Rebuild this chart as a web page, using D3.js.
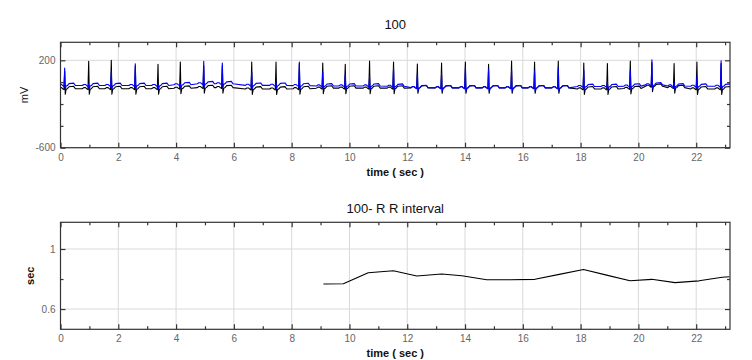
<!DOCTYPE html>
<html><head><meta charset="utf-8">
<script src="https://cdn.jsdelivr.net/npm/d3@7"></script>
<style>body{margin:0;background:#fff} text{font-family:"Liberation Sans",Arial,sans-serif}</style>
</head><body><svg id="c" width="752" height="360"></svg>
<script>
// ---------- data ----------
const beatTimes = [0.145, 0.976, 1.758, 2.589, 3.375, 4.147, 4.957, 5.601, 6.618, 7.459, 8.266, 9.076, 9.855, 10.696, 11.526, 12.350, 13.188, 14.012, 14.815, 15.611, 16.407, 17.227, 18.110, 18.927, 19.720, 20.467, 21.236, 22.025, 22.862];
const blackPeak = [100, 191, 200, 150, 163, 184, 150, 150, 184, 184, 170, 175, 163, 193, 184, 167, 175, 184, 163, 193, 184, 193, 175, 170, 193, 180, 170, 184, 170];
const bluePeak  = [129, -20, 93, 169, -20, -20, 191, 175, 93, 0, 184, 93, 70, 50, 130, 80, 80, 135, 120, 108, 103, 135, 108, 0, 108, 205, 0, 50, 195];
const blackBase = [-60, -60, -60, -60, -60, -56, -50, -50, -63, -63, -60, -55, -55, -55, -55, -52, -52, -52, -52, -52, -52, -52, -62, -62, -58, -38, -50, -62, -62];
const blueBase  = [-31, -31, -31, -31, -31, -24, -15, -15, -29, -29, -32, -35, -35, -35, -38, -50, -52, -52, -52, -52, -52, -52, -40, -40, -36, -25, -35, -38, -38];
const blackS = -50, blueS = -30;
// beat morphology: [time offset (s), mV offset from baseline, kind]
const beatShape = [[-0.22,0],[-0.17,10],[-0.11,10],[-0.07,0],[-0.025,-8],[0,0,'R'],[0.02,0,'S'],[0.05,-5],[0.09,0],[0.15,18],[0.31,22],[0.37,0]];

const rrTimes  = [9.10, 9.79, 10.65, 11.52, 12.33, 13.19, 13.89, 14.75, 15.56, 16.42, 17.26, 18.10, 18.90, 19.71, 20.46, 21.27, 22.10, 22.90, 23.15];
const rrValues = [0.767, 0.769, 0.842, 0.855, 0.820, 0.833, 0.822, 0.795, 0.795, 0.798, 0.831, 0.864, 0.826, 0.789, 0.798, 0.776, 0.788, 0.812, 0.815];

const xDomain = [0, 23.17];
const xMajor = [0, 2, 4, 6, 8, 10, 12, 14, 16, 18, 20, 22];
const xMinor = [1, 3, 5, 7, 9, 11, 13, 15, 17, 19, 21, 23];
const ecgDomain = [-600, 365];
const ecgMajor = [200, -600];
const ecgMinor = [0, -200, -400];
const rrDomain = [0.465, 1.178];
const rrMajor = [1, 0.6];
const rrMinor = [0.8];

// ---------- drawing ----------
const svg = d3.select('#c');
const L = 60.5, R = 730;
const x = d3.scaleLinear().domain(xDomain).range([L, R]);

function panel(id, top, bottom, yDomain, yMajor, yMinor, title, titleY, ylab, ylabX, ylabBold, xlabY) {
  const y = d3.scaleLinear().domain(yDomain).range([bottom, top]);
  const g = svg.append('g');
  g.append('g').selectAll('line').data(xMajor).join('line')
    .attr('x1', d => x(d)).attr('x2', d => x(d)).attr('y1', top).attr('y2', bottom)
    .attr('stroke', '#d9d9d9').attr('stroke-width', 1);
  g.append('g').selectAll('line').data(yMajor).join('line')
    .attr('x1', L).attr('x2', R).attr('y1', d => y(d)).attr('y2', d => y(d))
    .attr('stroke', '#d9d9d9').attr('stroke-width', 1);
  const axStyle = a => { a.select('.domain').remove(); a.selectAll('line').attr('stroke', '#333').attr('stroke-width', 1.2);
    a.selectAll('text').attr('fill', '#666').style('font-size', '10px').style('font-family', '"Liberation Sans",Arial,sans-serif'); };
  g.append('g').attr('transform', `translate(0,${bottom})`).call(d3.axisBottom(x).tickValues(xMajor).tickSize(-5).tickPadding(6).tickFormat(d3.format('d'))).call(axStyle);
  g.append('g').attr('transform', `translate(0,${bottom})`).call(d3.axisBottom(x).tickValues(xMinor.filter(v => v <= xDomain[1])).tickSize(-3).tickFormat('')).call(axStyle);
  g.append('g').attr('transform', `translate(0,${top})`).call(d3.axisTop(x).tickValues(xMajor).tickSize(-5).tickFormat('')).call(axStyle);
  g.append('g').attr('transform', `translate(0,${top})`).call(d3.axisTop(x).tickValues(xMinor.filter(v => v <= xDomain[1])).tickSize(-3).tickFormat('')).call(axStyle);
  g.append('g').attr('transform', `translate(${L},0)`).call(d3.axisLeft(y).tickValues(yMajor).tickSize(-5).tickPadding(5).tickFormat(d => String(d))).call(axStyle);
  g.append('g').attr('transform', `translate(${L},0)`).call(d3.axisLeft(y).tickValues(yMinor).tickSize(-3).tickFormat('')).call(axStyle);
  g.append('g').attr('transform', `translate(${R},0)`).call(d3.axisRight(y).tickValues(yMajor).tickSize(-5).tickFormat('')).call(axStyle);
  g.append('g').attr('transform', `translate(${R},0)`).call(d3.axisRight(y).tickValues(yMinor).tickSize(-3).tickFormat('')).call(axStyle);
  svg.append('clipPath').attr('id', id).append('rect').attr('x', L).attr('y', top).attr('width', R - L).attr('height', bottom - top);
  svg.append('text').attr('x', (L + R) / 2).attr('y', titleY).attr('text-anchor', 'middle').style('font-size', '13px').attr('fill', '#111').text(title);
  svg.append('text').attr('x', (L + R) / 2).attr('y', xlabY).attr('text-anchor', 'middle').style('font-size', '11px').style('font-weight', 'bold').attr('fill', '#111').text('time ( sec )');
  svg.append('text').attr('transform', `translate(${ylabX},${(top + bottom) / 2}) rotate(-90)`).attr('dy', '0.35em')
    .attr('text-anchor', 'middle').style('font-size', '11px').style('font-weight', ylabBold ? 'bold' : 'normal').attr('fill', '#111').text(ylab);
  return { y, g, frame: () => svg.append('rect').attr('x', L).attr('y', top).attr('width', R - L).attr('height', bottom - top)
      .attr('fill', 'none').attr('stroke', '#333').attr('stroke-width', 1.2) };
}

const p1 = panel('clip1', 42.3, 147.7, ecgDomain, ecgMajor, ecgMinor, '100', 28.5, 'mV', 24, false, 176);
function buildEcg(base, peak, sDepth) {
  const pts = [[0, base[0]]];
  beatTimes.forEach((t, i) => {
    beatShape.forEach(([dt, dv, kind]) => {
      const v = kind === 'R' ? peak[i] : kind === 'S' ? base[i] + sDepth : base[i] + dv;
      pts.push([t + dt, v]);
    });
  });
  pts.push([xDomain[1], base[base.length - 1]]);
  return pts;
}
const ecgLine = d3.line().x(d => x(d[0])).y(d => p1.y(d[1]));
svg.append('path').attr('clip-path', 'url(#clip1)').attr('d', ecgLine(buildEcg(blackBase, blackPeak, blackS)))
  .attr('fill', 'none').attr('stroke', '#000').attr('stroke-width', 1.1).attr('stroke-linejoin', 'round');
svg.append('path').attr('clip-path', 'url(#clip1)').attr('d', ecgLine(buildEcg(blueBase, bluePeak, blueS)))
  .attr('fill', 'none').attr('stroke', '#0000ff').attr('stroke-width', 1.1).attr('stroke-linejoin', 'round');
p1.frame();

const p2 = panel('clip2', 222.3, 329.3, rrDomain, rrMajor, rrMinor, '100- R R interval', 212.5, 'sec', 30, true, 357);
const rrLine = d3.line().x((d, i) => x(rrTimes[i])).y(d => p2.y(d));
svg.append('path').attr('clip-path', 'url(#clip2)').attr('d', rrLine(rrValues))
  .attr('fill', 'none').attr('stroke', '#000').attr('stroke-width', 1.1).attr('stroke-linejoin', 'round');
p2.frame();
</script></body></html>
